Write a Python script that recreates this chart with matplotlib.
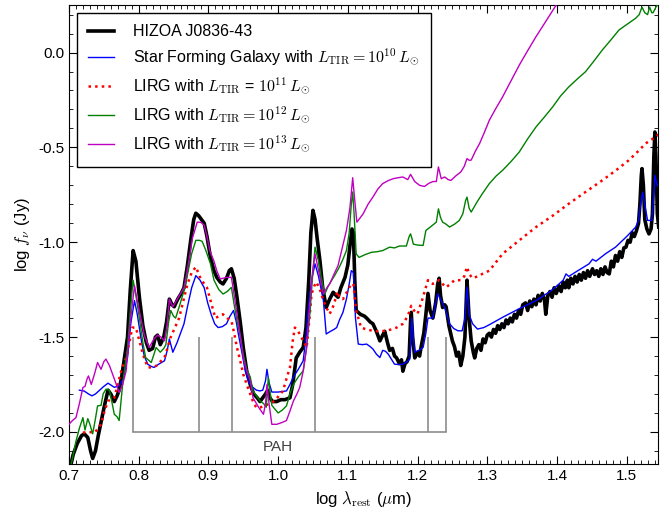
import numpy as np
import matplotlib
matplotlib.use("Agg")
import matplotlib.pyplot as plt

plt.rcParams["font.family"] = ["Liberation Sans", "DejaVu Sans"]
plt.rcParams["mathtext.fontset"] = "cm"
plt.rcParams["axes.unicode_minus"] = False
plt.rcParams["font.size"] = 11

# HIZOA J0836-43 Spektrum (log lambda, log f_nu)
hiz_x = [0.700, 0.706, 0.712, 0.718, 0.722, 0.727, 0.731, 0.734, 0.738, 0.742, 0.746, 0.751, 0.756, 0.760, 0.765,
         0.769, 0.772, 0.776, 0.780, 0.784, 0.788, 0.792, 0.796, 0.801, 0.806, 0.811, 0.815, 0.820, 0.824, 0.827,
         0.831, 0.836, 0.840, 0.844, 0.848, 0.851, 0.856, 0.861, 0.865, 0.870, 0.875, 0.879, 0.882, 0.886, 0.890,
         0.894, 0.898, 0.903, 0.908, 0.912, 0.917, 0.921, 0.926, 0.930, 0.933, 0.937, 0.941, 0.946, 0.950, 0.955,
         0.960, 0.965, 0.970, 0.974, 0.978, 0.982, 0.985, 0.988, 0.992, 0.998, 1.004, 1.010, 1.017, 1.021, 1.026,
         1.031, 1.036, 1.040, 1.044, 1.047, 1.050, 1.053, 1.056, 1.060, 1.064, 1.069, 1.074, 1.079, 1.083, 1.086,
         1.090, 1.096, 1.100, 1.103, 1.106, 1.108, 1.110, 1.112, 1.118, 1.124, 1.127, 1.132, 1.136, 1.141, 1.146,
         1.150, 1.153, 1.157, 1.160, 1.164, 1.167, 1.170, 1.174, 1.177, 1.179, 1.182, 1.185, 1.188, 1.190, 1.191,
         1.193, 1.196, 1.200, 1.203, 1.205, 1.209, 1.212, 1.215, 1.218, 1.222, 1.226, 1.229, 1.231, 1.233, 1.236,
         1.239, 1.241, 1.245, 1.250, 1.253, 1.256, 1.259, 1.262, 1.265, 1.268, 1.271, 1.274, 1.277, 1.280, 1.282,
         1.285, 1.288, 1.291, 1.294, 1.297, 1.300, 1.303, 1.306, 1.309, 1.312, 1.315, 1.318, 1.321, 1.324, 1.327,
         1.330, 1.333, 1.336, 1.339, 1.342, 1.345, 1.348, 1.351, 1.355, 1.358, 1.361, 1.364, 1.367, 1.370, 1.373,
         1.376, 1.379, 1.382, 1.384, 1.387, 1.390, 1.393, 1.396, 1.399, 1.403, 1.406, 1.409, 1.412, 1.415, 1.417,
         1.420, 1.423, 1.426, 1.429, 1.432, 1.435, 1.438, 1.441, 1.444, 1.447, 1.451, 1.454, 1.457, 1.460, 1.463,
         1.466, 1.469, 1.472, 1.475, 1.478, 1.481, 1.484, 1.487, 1.490, 1.493, 1.496, 1.499, 1.502, 1.505, 1.508,
         1.511, 1.514, 1.517, 1.519, 1.521, 1.522, 1.524, 1.526, 1.529, 1.532, 1.535, 1.537, 1.539, 1.5405, 1.542,
         1.544, 1.546]
hiz_y = [-2.22, -2.12, -2.06, -2.02, -2.01, -2.03, -2.10, -2.14, -2.10, -2.02, -1.95, -1.86, -1.78, -1.80, -1.84,
         -1.81, -1.78, -1.70, -1.60, -1.50, -1.25, -1.044, -1.10, -1.29, -1.44, -1.53, -1.57, -1.56, -1.50, -1.49,
         -1.54, -1.50, -1.42, -1.30, -1.33, -1.34, -1.30, -1.27, -1.24, -1.12, -0.98, -0.88, -0.847, -0.86, -0.88,
         -0.90, -0.97, -1.08, -1.15, -1.185, -1.21, -1.22, -1.19, -1.15, -1.14, -1.19, -1.29, -1.43, -1.555, -1.68,
         -1.75, -1.80, -1.82, -1.84, -1.82, -1.80, -1.78, -1.82, -1.84, -1.84, -1.83, -1.83, -1.82, -1.75, -1.61,
         -1.58, -1.555, -1.45, -1.20, -0.95, -0.832, -0.88, -0.98, -1.097, -1.24, -1.344, -1.30, -1.264, -1.28, -1.29,
         -1.24, -1.185, -1.12, -1.02, -0.93, -0.95, -1.20, -1.36, -1.38, -1.39, -1.40, -1.42, -1.43, -1.47, -1.52,
         -1.49, -1.47, -1.53, -1.57, -1.56, -1.60, -1.61, -1.64, -1.62, -1.68, -1.64, -1.63, -1.60, -1.42, -1.37,
         -1.50, -1.61, -1.58, -1.60, -1.555, -1.48, -1.38, -1.27, -1.36, -1.40, -1.32, -1.22, -1.19, -1.28, -1.344,
         -1.33, -1.34, -1.44, -1.52, -1.55, -1.60, -1.58, -1.65, -1.60, -1.50, -1.20, -1.40, -1.52, -1.58, -1.61,
         -1.56, -1.54, -1.57, -1.51, -1.53, -1.49, -1.48, -1.50, -1.46, -1.48, -1.44, -1.46, -1.43, -1.45, -1.41,
         -1.43, -1.40, -1.42, -1.38, -1.40, -1.36, -1.38, -1.33, -1.32, -1.36, -1.31, -1.34, -1.30, -1.33, -1.28,
         -1.31, -1.27, -1.30, -1.38, -1.28, -1.26, -1.29, -1.24, -1.27, -1.23, -1.26, -1.21, -1.24, -1.20, -1.24,
         -1.19, -1.22, -1.18, -1.21, -1.17, -1.20, -1.16, -1.19, -1.15, -1.18, -1.14, -1.17, -1.15, -1.18, -1.14,
         -1.17, -1.13, -1.16, -1.167, -1.10, -1.13, -1.07, -1.10, -1.05, -1.08, -1.03, -1.026, -0.99, -1.00, -0.95,
         -0.97, -0.94, -0.90, -0.80, -0.65, -0.612, -0.70, -0.88, -0.93, -0.956, -0.93, -0.85, -0.55, -0.419, -0.55,
         -0.85, -0.92]

# Star Forming Galaxy, L_TIR = 1e10
sfg_x = [0.715, 0.722, 0.728, 0.733, 0.738, 0.744, 0.750, 0.756, 0.761, 0.765, 0.772, 0.778, 0.784, 0.789, 0.794,
         0.798, 0.803, 0.808, 0.813, 0.818, 0.822, 0.830, 0.837, 0.841, 0.844, 0.849, 0.855, 0.860, 0.865, 0.870,
         0.876, 0.882, 0.888, 0.894, 0.899, 0.904, 0.909, 0.914, 0.920, 0.926, 0.931, 0.936, 0.940, 0.943, 0.948,
         0.953, 0.958, 0.964, 0.969, 0.974, 0.978, 0.982, 0.984, 0.987, 0.991, 1.000, 1.006, 1.012, 1.017, 1.022,
         1.029, 1.036, 1.040, 1.043, 1.048, 1.053, 1.058, 1.065, 1.069, 1.075, 1.080, 1.084, 1.088, 1.093, 1.098,
         1.102, 1.105, 1.108, 1.111, 1.115, 1.121, 1.127, 1.132, 1.136, 1.141, 1.146, 1.150, 1.154, 1.158, 1.163,
         1.167, 1.173, 1.179, 1.185, 1.189, 1.191, 1.192, 1.194, 1.196, 1.202, 1.208, 1.212, 1.215, 1.219, 1.222,
         1.226, 1.229, 1.233, 1.239, 1.246, 1.252, 1.258, 1.264, 1.268, 1.271, 1.274, 1.279, 1.286, 1.295, 1.303,
         1.322, 1.346, 1.370, 1.390, 1.403, 1.409, 1.413, 1.417, 1.430, 1.446, 1.451, 1.456, 1.470, 1.484, 1.500,
         1.513, 1.517, 1.520, 1.523, 1.526, 1.530, 1.536, 1.539, 1.5405, 1.543, 1.546]
sfg_y = [-1.78, -1.785, -1.80, -1.81, -1.80, -1.78, -1.76, -1.743, -1.755, -1.765, -1.757, -1.72, -1.608, -1.42, -1.308,
         -1.38, -1.50, -1.60, -1.643, -1.655, -1.66, -1.64, -1.625, -1.57, -1.51, -1.58, -1.53, -1.48, -1.43, -1.34,
         -1.24, -1.176, -1.20, -1.24, -1.32, -1.38, -1.43, -1.45, -1.445, -1.43, -1.39, -1.36, -1.42, -1.484, -1.58,
         -1.68, -1.74, -1.766, -1.78, -1.784, -1.78, -1.73, -1.67, -1.74, -1.79, -1.79, -1.787, -1.784, -1.75, -1.71,
         -1.67, -1.625, -1.50, -1.36, -1.20, -1.114, -1.18, -1.308, -1.484, -1.47, -1.46, -1.45, -1.41, -1.37, -1.30,
         -1.22, -1.15, -1.16, -1.40, -1.537, -1.54, -1.537, -1.55, -1.563, -1.59, -1.608, -1.57, -1.575, -1.59, -1.62,
         -1.643, -1.645, -1.643, -1.63, -1.616, -1.45, -1.40, -1.50, -1.58, -1.57, -1.555, -1.48, -1.40, -1.40, -1.40,
         -1.32, -1.273, -1.30, -1.344, -1.43, -1.455, -1.467, -1.467, -1.40, -1.238, -1.38, -1.43, -1.458, -1.45, -1.435,
         -1.396, -1.35, -1.308, -1.26, -1.22, -1.20, -1.167, -1.18, -1.15, -1.114, -1.09, -1.10, -1.06, -1.026, -0.97,
         -0.92, -0.885, -0.80, -0.736, -0.80, -0.885, -0.885, -0.75, -0.647, -0.69, -0.71]

# LIRG L_TIR = 1e11
l11_x = [0.720, 0.728, 0.737, 0.746, 0.751, 0.756, 0.760, 0.765, 0.770, 0.775, 0.782, 0.787, 0.791, 0.796, 0.801,
         0.806, 0.813, 0.819, 0.825, 0.831, 0.837, 0.842, 0.846, 0.852, 0.858, 0.864, 0.870, 0.876, 0.882, 0.888,
         0.894, 0.898, 0.904, 0.910, 0.915, 0.921, 0.927, 0.933, 0.937, 0.941, 0.946, 0.950, 0.955, 0.960, 0.965,
         0.969, 0.975, 0.981, 0.988, 0.995, 1.001, 1.007, 1.012, 1.017, 1.021, 1.024, 1.027, 1.031, 1.036, 1.041,
         1.045, 1.048, 1.052, 1.055, 1.060, 1.065, 1.070, 1.074, 1.080, 1.085, 1.088, 1.093, 1.099, 1.105, 1.108,
         1.112, 1.119, 1.127, 1.136, 1.145, 1.155, 1.162, 1.170, 1.179, 1.186, 1.191, 1.195, 1.200, 1.207, 1.215,
         1.222, 1.231, 1.236, 1.241, 1.247, 1.253, 1.262, 1.267, 1.271, 1.274, 1.279, 1.286, 1.293, 1.303, 1.322,
         1.346, 1.370, 1.394, 1.417, 1.441, 1.465, 1.485, 1.503, 1.518, 1.527, 1.535, 1.542, 1.546]
l11_y = [-2.004, -2.00, -2.004, -1.96, -1.89, -1.837, -1.83, -1.82, -1.75, -1.678, -1.608, -1.52, -1.45, -1.45, -1.52,
         -1.59, -1.66, -1.66, -1.652, -1.63, -1.608, -1.55, -1.50, -1.45, -1.40, -1.31, -1.22, -1.16, -1.13, -1.185,
         -1.22, -1.24, -1.32, -1.40, -1.39, -1.38, -1.40, -1.414, -1.48, -1.555, -1.63, -1.696, -1.75, -1.80, -1.85,
         -1.872, -1.87, -1.863, -1.85, -1.837, -1.81, -1.784, -1.72, -1.66, -1.52, -1.45, -1.46, -1.484, -1.52, -1.555,
         -1.40, -1.273, -1.23, -1.21, -1.25, -1.308, -1.35, -1.378, -1.33, -1.26, -1.29, -1.30, -1.26, -1.22, -1.22,
         -1.36, -1.45, -1.46, -1.467, -1.47, -1.467, -1.46, -1.45, -1.43, -1.39, -1.335, -1.36, -1.378, -1.30, -1.20,
         -1.22, -1.20, -1.22, -1.238, -1.22, -1.20, -1.20, -1.18, -1.13, -1.167, -1.19, -1.18, -1.167, -1.15, -1.061,
         -0.99, -0.92, -0.86, -0.797, -0.735, -0.674, -0.62, -0.568, -0.515, -0.48, -0.46, -0.445, -0.43]

# LIRG L_TIR = 1e12
l12_x = [0.700, 0.705, 0.710, 0.715, 0.720, 0.723, 0.727, 0.730, 0.734, 0.738, 0.741, 0.746, 0.749, 0.753, 0.758,
         0.762, 0.765, 0.769, 0.772, 0.777, 0.784, 0.788, 0.792, 0.796, 0.801, 0.806, 0.810, 0.818, 0.822, 0.825,
         0.831, 0.836, 0.839, 0.843, 0.846, 0.850, 0.853, 0.859, 0.865, 0.870, 0.876, 0.882, 0.887, 0.891, 0.896,
         0.903, 0.908, 0.915, 0.921, 0.927, 0.933, 0.937, 0.941, 0.946, 0.950, 0.955, 0.960, 0.964, 0.969, 0.974,
         0.979, 0.983, 0.986, 0.989, 0.991, 1.000, 1.006, 1.012, 1.017, 1.022, 1.029, 1.036, 1.041, 1.046, 1.050,
         1.053, 1.058, 1.062, 1.067, 1.072, 1.077, 1.082, 1.088, 1.093, 1.098, 1.102, 1.105, 1.107, 1.109, 1.112,
         1.116, 1.125, 1.134, 1.142, 1.150, 1.160, 1.167, 1.174, 1.184, 1.188, 1.190, 1.192, 1.194, 1.200, 1.208,
         1.212, 1.220, 1.227, 1.230, 1.233, 1.236, 1.241, 1.246, 1.253, 1.260, 1.265, 1.269, 1.271, 1.274, 1.277,
         1.285, 1.293, 1.303, 1.313, 1.322, 1.334, 1.346, 1.358, 1.370, 1.382, 1.394, 1.405, 1.417, 1.429, 1.441,
         1.453, 1.465, 1.477, 1.489, 1.501, 1.513, 1.518, 1.522, 1.526, 1.530, 1.533, 1.536, 1.538, 1.542, 1.546]
l12_y = [-2.22, -2.14, -2.05, -1.98, -1.925, -1.99, -1.93, -1.96, -2.01, -1.93, -1.863, -1.86, -1.80, -1.775, -1.78,
         -1.85, -1.907, -1.92, -1.94, -1.75, -1.555, -1.36, -1.20, -1.28, -1.40, -1.53, -1.608, -1.634, -1.59, -1.555,
         -1.58, -1.56, -1.54, -1.42, -1.36, -1.39, -1.40, -1.33, -1.255, -1.17, -1.06, -0.99, -0.99, -0.995, -1.04,
         -1.114, -1.20, -1.25, -1.273, -1.26, -1.238, -1.33, -1.414, -1.50, -1.59, -1.67, -1.71, -1.784, -1.81, -1.837,
         -1.85, -1.87, -1.714, -1.80, -1.86, -1.90, -1.885, -1.863, -1.80, -1.75, -1.71, -1.678, -1.55, -1.36, -1.15,
         -1.026, -1.10, -1.185, -1.273, -1.23, -1.20, -1.17, -1.13, -1.09, -1.044, -0.95, -0.80, -0.735, -0.85, -1.061,
         -1.08, -1.065, -1.053, -1.05, -1.044, -1.026, -1.03, -1.02, -1.02, -0.97, -0.956, -0.98, -1.01, -1.015, -1.017,
         -0.938, -0.915, -0.894, -0.824, -0.87, -0.894, -0.905, -0.92, -0.905, -0.885, -0.85, -0.78, -0.762, -0.82, -0.841,
         -0.79, -0.744, -0.691, -0.65, -0.621, -0.575, -0.524, -0.455, -0.392, -0.34, -0.286, -0.23, -0.181, -0.14, -0.101,
         -0.045, 0.013, 0.065, 0.119, 0.15, 0.181, 0.20, 0.24, 0.21, 0.20, 0.24, 0.21, 0.21, 0.24, 0.26]

# LIRG L_TIR = 1e13
l13_x = [0.700, 0.705, 0.710, 0.715, 0.720, 0.723, 0.726, 0.728, 0.732, 0.737, 0.741, 0.746, 0.750, 0.753, 0.758,
         0.765, 0.772, 0.777, 0.782, 0.788, 0.794, 0.798, 0.803, 0.808, 0.815, 0.822, 0.827, 0.832, 0.837, 0.841,
         0.844, 0.849, 0.857, 0.865, 0.871, 0.877, 0.884, 0.889, 0.894, 0.898, 0.902, 0.908, 0.912, 0.917, 0.926,
         0.933, 0.937, 0.941, 0.946, 0.950, 0.955, 0.960, 0.964, 0.972, 0.979, 0.982, 0.984, 0.987, 0.991, 0.998,
         1.006, 1.012, 1.017, 1.022, 1.027, 1.031, 1.036, 1.041, 1.045, 1.049, 1.053, 1.058, 1.065, 1.070, 1.074,
         1.080, 1.086, 1.092, 1.098, 1.103, 1.107, 1.110, 1.113, 1.118, 1.122, 1.129, 1.136, 1.143, 1.150, 1.158,
         1.165, 1.172, 1.179, 1.186, 1.190, 1.196, 1.203, 1.210, 1.216, 1.222, 1.227, 1.230, 1.234, 1.239, 1.244,
         1.248, 1.255, 1.262, 1.267, 1.271, 1.274, 1.277, 1.283, 1.289, 1.296, 1.303, 1.310, 1.322, 1.334, 1.346,
         1.358, 1.370, 1.385, 1.399, 1.405]
l13_y = [-1.96, -1.94, -1.925, -1.85, -1.766, -1.76, -1.72, -1.705, -1.75, -1.69, -1.634, -1.67, -1.63, -1.616, -1.65,
         -1.72, -1.793, -1.75, -1.678, -1.42, -1.229, -1.31, -1.40, -1.49, -1.555, -1.51, -1.49, -1.50, -1.52, -1.43,
         -1.30, -1.34, -1.29, -1.24, -1.12, -0.98, -0.894, -0.895, -0.91, -0.97, -1.044, -1.10, -1.15, -1.194, -1.185,
         -1.185, -1.28, -1.378, -1.50, -1.61, -1.68, -1.73, -1.82, -1.87, -1.907, -1.85, -1.75, -1.85, -1.96, -1.96,
         -1.95, -1.94, -1.89, -1.837, -1.80, -1.766, -1.68, -1.555, -1.35, -1.17, -1.061, -1.15, -1.273, -1.24, -1.22,
         -1.17, -1.123, -1.03, -0.938, -0.82, -0.66, -0.78, -0.894, -0.87, -0.85, -0.80, -0.762, -0.72, -0.691, -0.675,
         -0.665, -0.66, -0.656, -0.67, -0.642, -0.68, -0.70, -0.706, -0.69, -0.68, -0.68, -0.603, -0.665, -0.656, -0.67,
         -0.674, -0.65, -0.63, -0.60, -0.559, -0.568, -0.567, -0.52, -0.48, -0.42, -0.357, -0.31, -0.234, -0.15, -0.066,
         0.01, 0.084, 0.17, 0.251, 0.28]

# PAH Linien (6.2, 7.7, 8.6, 11.3, 16.4, 17.4 um)
pah_wl = [6.2, 7.7, 8.6, 11.3, 16.4, 17.4]
pah_x = np.log10(pah_wl)
pah_bottom = -2.0
pah_top = -1.5

fig, ax = plt.subplots(figsize=(6.6, 5.14), dpi=100)
fig.subplots_adjust(left=0.1045, right=0.997, top=0.990, bottom=0.097)

# PAH Markierung
ax.plot([pah_x[0], pah_x[-1]], [pah_bottom, pah_bottom], color="0.55", lw=1.2, zorder=1)
ax.vlines(pah_x, pah_bottom, pah_top, color="0.55", lw=1.2, zorder=1)
ax.text(1.0, -2.08, "PAH", color="0.25", ha="center", va="center", fontsize=11)

ax.plot(hiz_x, hiz_y, color="k", lw=2.6, label="HIZOA J0836-43", zorder=3)
ax.plot(sfg_x, sfg_y, color="b", lw=1.0,
        label=r"Star Forming Galaxy with $L_{\rm TIR} = 10^{\mathbf{10}}\,L_{\odot}$", zorder=4)
ax.plot(l11_x, l11_y, color="r", lw=1.8, linestyle=":",
        label=r"LIRG with $L_{\rm TIR}$ = $10^{\mathbf{11}}\,L_{\odot}$", zorder=4)
ax.plot(l12_x, l12_y, color="#008000", lw=1.0,
        label=r"LIRG with $L_{\rm TIR} = 10^{\mathbf{12}}\,L_{\odot}$", zorder=4)
ax.plot(l13_x, l13_y, color="#c000c0", lw=1.0,
        label=r"LIRG with $L_{\rm TIR} = 10^{\mathbf{13}}\,L_{\odot}$", zorder=4)

ax.set_xlim(0.7, 1.545)
ax.set_ylim(-2.17, 0.25)
ax.set_xticks(np.arange(0.7, 1.51, 0.1))
ax.set_xticks(np.arange(0.7, 1.545, 0.01), minor=True)
ax.set_yticks(np.arange(-2.0, 0.01, 0.5))
ax.set_yticks(np.arange(-2.1, 0.25, 0.1), minor=True)
ax.xaxis.set_major_formatter(matplotlib.ticker.FormatStrFormatter("%.1f"))
ax.yaxis.set_major_formatter(matplotlib.ticker.FormatStrFormatter("%.1f"))
ax.tick_params(which="both", direction="in", top=True, right=True, labelsize=11)
ax.tick_params(which="major", length=6)
ax.tick_params(which="minor", length=3)

ax.set_xlabel(r"log $\lambda_{\rm rest}$ ($\mu$m)", fontsize=12)
ax.set_ylabel(r"log $f_{\nu}$ (Jy)", fontsize=12)

leg = ax.legend(loc="upper left", fancybox=False, edgecolor="k", framealpha=1,
                handlelength=1.6, handletextpad=1.2, labelspacing=0.5, borderpad=0.7,
                fontsize=11.5)
leg.get_frame().set_linewidth(1.0)

plt.savefig("out.png", dpi=100)
